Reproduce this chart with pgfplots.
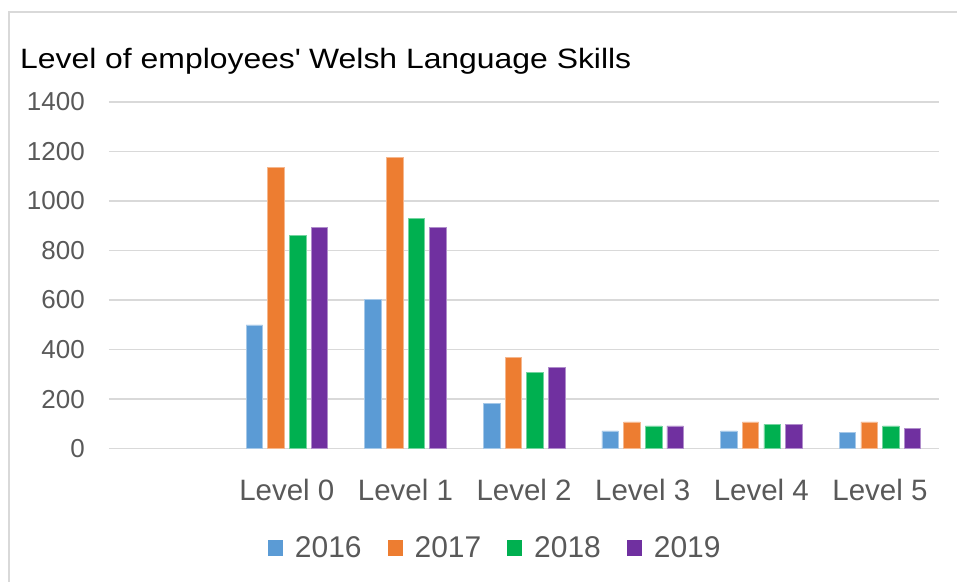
\documentclass[border=0pt]{standalone}
\usepackage{fontspec}
\setmainfont{Liberation Sans}
\newfontfamily\titlefont[FakeStretch=1.14]{Liberation Sans}
\usepackage{pgfplots}
\pgfplotsset{compat=1.18}
\definecolor{c16}{HTML}{5B9BD5}
\definecolor{c17}{HTML}{ED7D31}
\definecolor{c18}{HTML}{00B050}
\definecolor{c19}{HTML}{7030A0}
\definecolor{gridgray}{HTML}{D9D9D9}
\definecolor{txtgray}{HTML}{595959}
\begin{document}
\begin{tikzpicture}
\path (0bp,0bp) rectangle (958bp,582bp);
\draw[color=gridgray, line width=1.5bp] (9bp,0bp) -- (9bp,570bp) -- (958bp,570bp);
\node[anchor=base west, inner sep=0pt, font=\titlefont\fontsize{28bp}{33bp}\selectfont, text=black] at (20bp,513.7bp) {Level of employees\textquotesingle\ Welsh Language Skills};
\begin{axis}[
  at={(109bp,133bp)}, anchor=south west,
  width=831bp, height=347bp, scale only axis,
  ybar=5.2bp, bar width=16.5bp,
  xmin=-0.5, xmax=6.5, ymin=0, ymax=1400,
  xtick={1,2,3,4,5,6},
  xticklabels={Level 0,Level 1,Level 2,Level 3,Level 4,Level 5},
  ytick={0,200,...,1400},
  axis line style={draw=none},
  major tick length=0pt,
  ymajorgrids, grid style={color=gridgray, line width=1.5bp},
  /pgf/number format/assume math mode=true,
  /pgf/number format/1000 sep={},
  xticklabel style={anchor=base, yshift=-51.5bp, inner sep=0pt, font=\fontsize{29.5bp}{34bp}\selectfont, text=txtgray},
  yticklabel style={anchor=east, xshift=-24bp, inner sep=0pt, font=\fontsize{26bp}{31bp}\selectfont, text=txtgray},
  legend image code/.code={\fill[#1,draw=none] (0bp,-8bp) rectangle (15bp,8bp);},
  legend columns=4,
  legend cell align=left,
  legend style={at={(0.1913,-0.2853)}, anchor=west, draw=none, fill=none, inner sep=0pt,
    font=\fontsize{30bp}{35bp}\selectfont, text=txtgray,
    nodes={inner sep=0pt},
    /tikz/every odd column/.append style={column sep=12bp},
    /tikz/every even column/.append style={column sep=26bp}},
]
\addplot[fill=c16, draw=c16!55!white, line width=0.6bp] coordinates {(1,500) (2,603) (3,184) (4,72) (5,72) (6,66)};
\addplot[fill=c17, draw=c17!55!white, line width=0.6bp] coordinates {(1,1135) (2,1177) (3,367) (4,108) (5,108) (6,108)};
\addplot[fill=c18, draw=c18!55!white, line width=0.6bp] coordinates {(1,861) (2,930) (3,309) (4,92) (5,98) (6,92)};
\addplot[fill=c19, draw=c19!55!white, line width=0.6bp] coordinates {(1,893) (2,893) (3,329) (4,92) (5,98) (6,82)};
\legend{2016,2017,2018,2019}
\end{axis}
\end{tikzpicture}
\end{document}
